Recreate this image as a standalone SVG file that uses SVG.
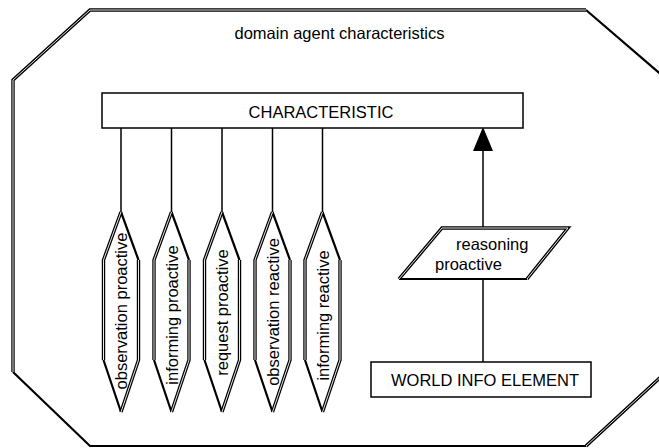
<svg xmlns="http://www.w3.org/2000/svg" width="659" height="448" viewBox="0 0 659 448">
<style>
text{font-family:"Liberation Sans",Arial,sans-serif;font-size:16.5px;fill:#000}
.fill{fill:#fff;stroke:none}
.d1{fill:none;stroke:#000;stroke-width:3.4;stroke-linejoin:miter}
.d2{fill:none;stroke:#fff;stroke-width:0.9;stroke-linejoin:miter}
.s{fill:none;stroke:#000;stroke-width:2.2;stroke-linejoin:miter}
.box{fill:#fff;stroke:#000;stroke-width:1.5}
.ln{fill:none;stroke:#000;stroke-width:1.5}
</style>
<defs>
<g id="hex">
<polygon class="fill" points="0,0 17.5,48 17.5,148 0,200 -17.5,148 -17.5,48"/>
<path class="s" d="M0,0 L17.5,48 M-17.5,148 L0,200"/>
<path class="d1" d="M-17.5,148 L-17.5,48 L0,0 M0,200 L17.5,148 L17.5,48"/>
<path class="d2" d="M-17.5,148 L-17.5,48 L0,0 M0,200 L17.5,148 L17.5,48"/>
</g>
</defs>
<rect width="659" height="448" fill="#fff"/>
<g id="domain">
<polygon class="fill" points="90,10 586,10 664,77 664,374 586,446 90,446 13,372 13,80"/>
<path class="s" d="M586,10 L664,77 M13,372 L90,446 L586,446"/>
<path class="d1" d="M13,372 L13,80 L90,10 L586,10 M586,446 L664,374"/>
<path class="d2" d="M13,372 L13,80 L90,10 L586,10 M586,446 L664,374"/>
<text x="339.5" y="39" text-anchor="middle">domain agent characteristics</text>
</g>
<g id="connectors">
<line class="ln" x1="121" y1="128" x2="121" y2="212"/>
<line class="ln" x1="171.5" y1="128" x2="171.5" y2="212"/>
<line class="ln" x1="222" y1="128" x2="222" y2="212"/>
<line class="ln" x1="272.5" y1="128" x2="272.5" y2="212"/>
<line class="ln" x1="322.5" y1="128" x2="322.5" y2="212"/>
<line class="ln" x1="483" y1="150" x2="483" y2="228"/>
<polygon points="483,127 473,151 493,151" fill="#000"/>
<line class="ln" x1="483" y1="279" x2="483" y2="362"/>
</g>
<g id="characteristic">
<rect class="box" x="102" y="93" width="421" height="35"/>
<text x="321" y="118" text-anchor="middle">CHARACTERISTIC</text>
</g>
<g id="observation-proactive">
<use href="#hex" x="121" y="212"/>
<text transform="translate(127,311) rotate(-90)" text-anchor="middle">observation proactive</text>
</g>
<g id="informing-proactive">
<use href="#hex" x="171.5" y="212"/>
<text transform="translate(177.5,315) rotate(-90)" text-anchor="middle">informing proactive</text>
</g>
<g id="request-proactive">
<use href="#hex" x="222" y="212"/>
<text transform="translate(228,312.5) rotate(-90)" text-anchor="middle">request proactive</text>
</g>
<g id="observation-reactive">
<use href="#hex" x="272.5" y="212"/>
<text transform="translate(278.5,312) rotate(-90)" text-anchor="middle">observation reactive</text>
</g>
<g id="informing-reactive">
<use href="#hex" x="322.5" y="212"/>
<text transform="translate(328.5,315.5) rotate(-90)" text-anchor="middle">informing reactive</text>
</g>
<g id="reasoning-proactive">
<polygon class="fill" points="442,228 568,228 527,279 399,279"/>
<path class="s" d="M399,279 L527,279"/>
<path class="d1" d="M399,279 L442,228 L568,228 L527,279"/>
<path class="d2" d="M399,279 L442,228 L568,228 L527,279"/>
<text x="456" y="250">reasoning</text>
<text x="435" y="270">proactive</text>
</g>
<g id="world-info-element">
<rect class="box" x="371" y="362" width="220" height="35"/>
<text x="485" y="386" text-anchor="middle">WORLD INFO ELEMENT</text>
</g>
</svg>
